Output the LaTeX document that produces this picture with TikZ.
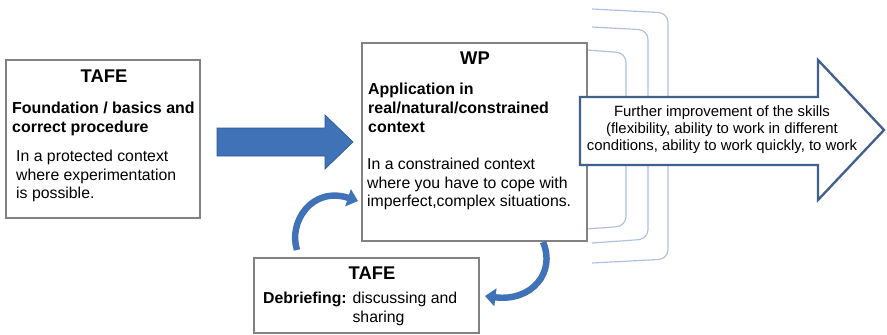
\documentclass[tikz,border=0pt]{standalone}
\usepackage{fontspec}
\setmainfont{Liberation Sans}
\usetikzlibrary{arrows.meta}
\definecolor{flowblue}{RGB}{64,114,184}
\definecolor{flowedge}{RGB}{47,88,150}
\definecolor{outlineblue}{RGB}{66,96,142}
\definecolor{ringblue}{RGB}{172,193,224}
\definecolor{boxgray}{RGB}{130,130,130}
\tikzset{
  box/.style={draw=boxgray, line width=1.3pt, rectangle, fill=white, inner sep=0pt},
  hdr/.style={font=\fontsize{15.7}{18}\selectfont\bfseries, inner sep=0pt},
  lead/.style={font=\fontsize{13.6}{16.2}\selectfont\bfseries, align=left, anchor=west, inner sep=0pt},
  txt/.style={font=\fontsize{13.5}{15.8}\selectfont, align=left, anchor=west, inner sep=0pt},
  ring/.style={draw=ringblue, line width=1pt, rounded corners=8pt},
  swoosh/.style={draw=flowblue, line width=5.5pt, -{Triangle[length=9pt, width=15pt]}},
}
\begin{document}
\begin{tikzpicture}[x=0.03cm, y=-0.03cm]
\useasboundingbox (0,0) rectangle (887,335);

% rings behind the WP box
\draw[ring] (592,9) -- (668,13) -- (668,259) -- (592,263);
\draw[ring] (592,27) -- (648,30) -- (648,239) -- (592,243);
\draw[ring] (587,50) -- (626,53) -- (626,226) -- (587,229);

% boxes
\node[box, minimum width=5.82cm, minimum height=4.74cm] (tafeL) at (103,139) {};
\node[box, minimum width=6.75cm, minimum height=5.94cm] (wp) at (474.5,142) {};
\node[box, minimum width=6.75cm, minimum height=2.25cm] (tafeB) at (366.5,295.5) {};

% TAFE (left)
\node[hdr] (tafeLhdr) at (104,76) {TAFE};
\node[lead] (tafeLlead) at (12,119) {Foundation / basics and\\correct procedure};
\node[txt] (tafeLtxt) at (16,176) {In a protected context\\where experimentation\\is possible.};

% WP
\node[hdr] (wphdr) at (475,58.5) {WP};
\node[lead] (wplead) at (368,108) {Application in\\real/natural/constrained\\context};
\node[txt] (wptxt) at (367,184) {In a constrained context\\where you have to cope with\\imperfect,complex situations.};

% TAFE (bottom)
\node[hdr] (tafeBhdr) at (372,273.5) {TAFE};
\node[txt] (tafeBtxt) at (263,309) {\textbf{Debriefing:} discussing and\\\phantom{\textbf{Debriefing:} }sharing};

% blue arrow
\fill[flowblue, draw=flowedge, line width=0.6pt] (217,128) -- (325,128) -- (325,115) -- (353,142) -- (325,169) -- (325,156) -- (217,156) -- cycle;

% big arrow
\draw[outlineblue, line width=2pt, fill=white] (580,97) -- (818,97) -- (818,60) -- (884,130) -- (818,200) -- (818,165) -- (580,165) -- cycle;
\node[font=\fontsize{12.7}{14.5}\selectfont, align=center, inner sep=0pt] (further) at (722,130)
  {Further improvement of the skills\\(flexibility, ability to work in different\\conditions, ability to work quickly, to work};

% loop arrows
\coordinate (loopA) at (297,250);
\coordinate (loopB) at (543,242);
\draw[swoosh] (loopA) .. controls (288,222) and (312,186) .. (358,201);
\draw[swoosh] (loopB) .. controls (556,272) and (532,302) .. (485,296);

\end{tikzpicture}
\end{document}
